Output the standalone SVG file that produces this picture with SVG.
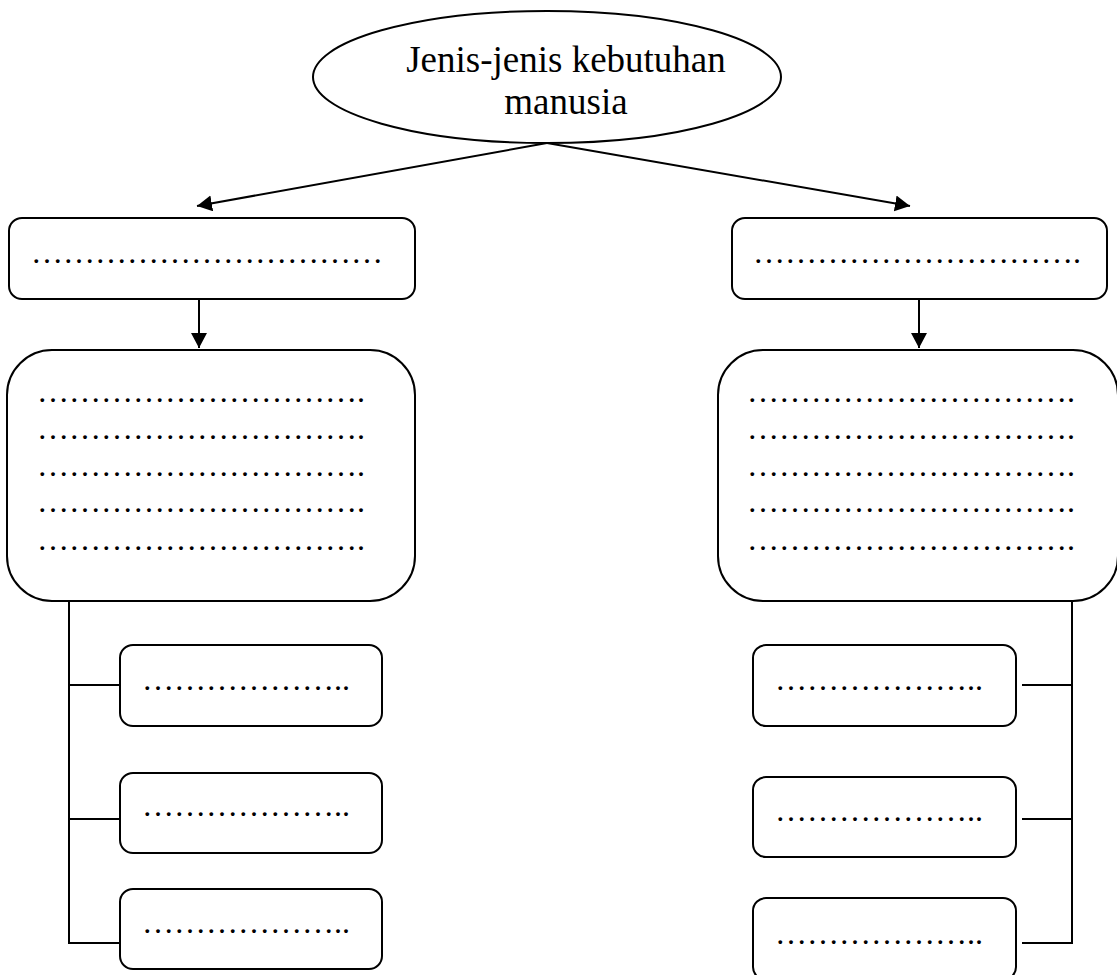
<svg xmlns="http://www.w3.org/2000/svg" width="1117" height="975" viewBox="0 0 1117 975">
  <style>
    .box { fill: #fff; stroke: #000; stroke-width: 2; }
    .wire { fill: none; stroke: #000; stroke-width: 2; }
    .title { font-family: "Liberation Serif", "Times New Roman", serif; font-size: 37px; fill: #000; text-anchor: middle; }
    .fill { font-family: "Liberation Serif", "Times New Roman", serif; font-size: 32px; fill: #000; }
  </style>
  <defs>
    <marker id="arrow" markerUnits="userSpaceOnUse" markerWidth="18" markerHeight="18" refX="15" refY="8" orient="auto">
      <path d="M0,0 L15,8 L0,16 z" fill="#000"/>
    </marker>
  </defs>
  <rect width="1117" height="975" fill="#fff"/>

  <!-- connectors -->
  <g id="connectors">
    <line class="wire" x1="547" y1="143" x2="197" y2="206" marker-end="url(#arrow)"/>
    <line class="wire" x1="547" y1="143" x2="910" y2="206" marker-end="url(#arrow)"/>
    <line class="wire" x1="199" y1="299" x2="199" y2="348" marker-end="url(#arrow)"/>
    <line class="wire" x1="919" y1="299" x2="919" y2="348" marker-end="url(#arrow)"/>
    <path class="wire" d="M69,601 V943 H120 M69,685 H120 M69,819 H120"/>
    <path class="wire" d="M1072,601 V943 H1022 M1072,685 H1022 M1072,819 H1022"/>
  </g>

  <!-- root -->
  <g id="root">
    <ellipse class="box" cx="547" cy="77" rx="234" ry="66"/>
    <text class="title" x="566" y="72">Jenis-jenis kebutuhan</text>
    <text class="title" x="566" y="114">manusia</text>
  </g>

  <!-- left branch -->
  <g id="left-head">
    <rect class="box" x="9" y="218" width="406" height="81" rx="13"/>
    <text class="fill" x="31" y="263">&#8230;&#8230;&#8230;&#8230;&#8230;&#8230;&#8230;&#8230;&#8230;&#8230;&#8230;</text>
  </g>
  <g id="left-detail">
    <rect class="box" x="7" y="350" width="408" height="251" rx="45"/>
    <text class="fill" x="37" y="402">&#8230;&#8230;&#8230;&#8230;&#8230;&#8230;&#8230;&#8230;&#8230;&#8230;.</text>
    <text class="fill" x="37" y="439">&#8230;&#8230;&#8230;&#8230;&#8230;&#8230;&#8230;&#8230;&#8230;&#8230;.</text>
    <text class="fill" x="37" y="476">&#8230;&#8230;&#8230;&#8230;&#8230;&#8230;&#8230;&#8230;&#8230;&#8230;.</text>
    <text class="fill" x="37" y="512">&#8230;&#8230;&#8230;&#8230;&#8230;&#8230;&#8230;&#8230;&#8230;&#8230;.</text>
    <text class="fill" x="37" y="550">&#8230;&#8230;&#8230;&#8230;&#8230;&#8230;&#8230;&#8230;&#8230;&#8230;.</text>
  </g>
  <g id="left-item-1">
    <rect class="box" x="120" y="645" width="262" height="81" rx="13"/>
    <text class="fill" x="142" y="690">&#8230;&#8230;&#8230;&#8230;&#8230;&#8230;..</text>
  </g>
  <g id="left-item-2">
    <rect class="box" x="120" y="773" width="262" height="80" rx="13"/>
    <text class="fill" x="142" y="816">&#8230;&#8230;&#8230;&#8230;&#8230;&#8230;..</text>
  </g>
  <g id="left-item-3">
    <rect class="box" x="120" y="889" width="262" height="80" rx="13"/>
    <text class="fill" x="142" y="933">&#8230;&#8230;&#8230;&#8230;&#8230;&#8230;..</text>
  </g>

  <!-- right branch -->
  <g id="right-head">
    <rect class="box" x="732" y="218" width="375" height="81" rx="13"/>
    <text class="fill" x="753" y="263">&#8230;&#8230;&#8230;&#8230;&#8230;&#8230;&#8230;&#8230;&#8230;&#8230;.</text>
  </g>
  <g id="right-detail">
    <rect class="box" x="718" y="350" width="400" height="251" rx="45"/>
    <text class="fill" x="747" y="402">&#8230;&#8230;&#8230;&#8230;&#8230;&#8230;&#8230;&#8230;&#8230;&#8230;.</text>
    <text class="fill" x="747" y="439">&#8230;&#8230;&#8230;&#8230;&#8230;&#8230;&#8230;&#8230;&#8230;&#8230;.</text>
    <text class="fill" x="747" y="476">&#8230;&#8230;&#8230;&#8230;&#8230;&#8230;&#8230;&#8230;&#8230;&#8230;.</text>
    <text class="fill" x="747" y="512">&#8230;&#8230;&#8230;&#8230;&#8230;&#8230;&#8230;&#8230;&#8230;&#8230;.</text>
    <text class="fill" x="747" y="550">&#8230;&#8230;&#8230;&#8230;&#8230;&#8230;&#8230;&#8230;&#8230;&#8230;.</text>
  </g>
  <g id="right-item-1">
    <rect class="box" x="753" y="645" width="263" height="81" rx="13"/>
    <text class="fill" x="775" y="690">&#8230;&#8230;&#8230;&#8230;&#8230;&#8230;..</text>
  </g>
  <g id="right-item-2">
    <rect class="box" x="753" y="777" width="263" height="80" rx="13"/>
    <text class="fill" x="775" y="821">&#8230;&#8230;&#8230;&#8230;&#8230;&#8230;..</text>
  </g>
  <g id="right-item-3">
    <rect class="box" x="753" y="898" width="263" height="82" rx="13"/>
    <text class="fill" x="775" y="944">&#8230;&#8230;&#8230;&#8230;&#8230;&#8230;..</text>
  </g>
</svg>
